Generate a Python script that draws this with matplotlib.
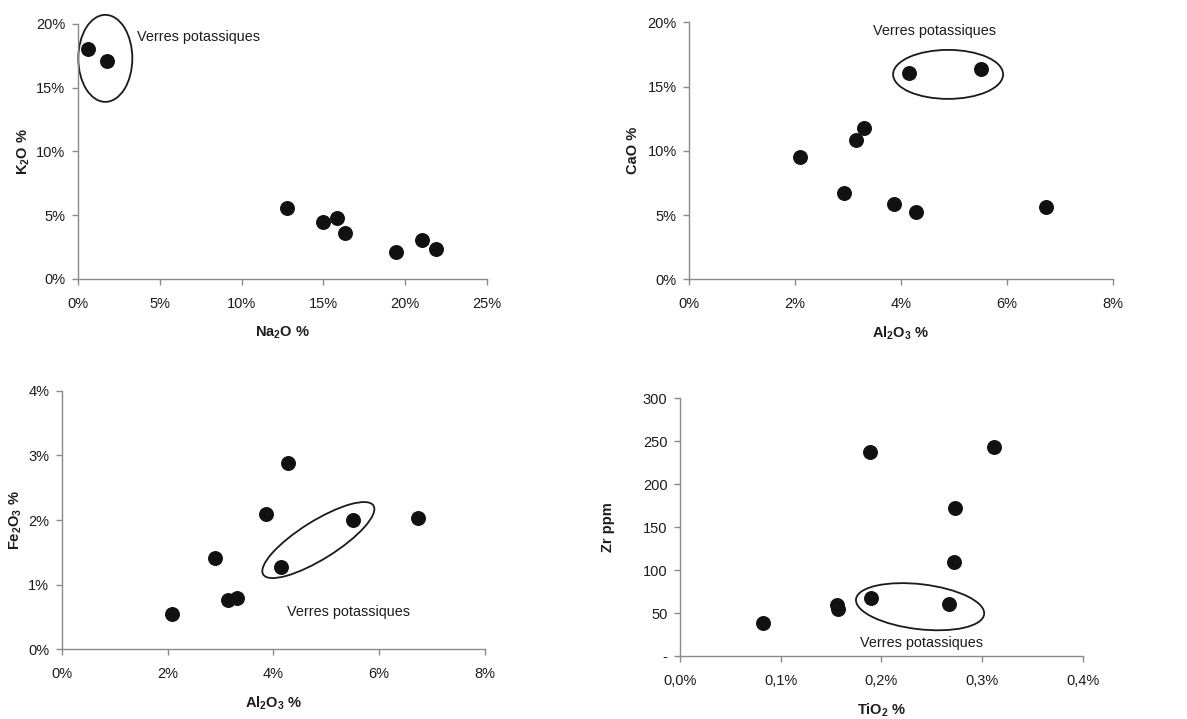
import matplotlib.pyplot as plt
from matplotlib.patches import Ellipse
from matplotlib import transforms

plt.rcParams['font.family'] = ['Liberation Sans', 'DejaVu Sans']
plt.rcParams['mathtext.fontset'] = 'custom'
plt.rcParams['mathtext.rm'] = 'Liberation Sans'
plt.rcParams['mathtext.bf'] = 'Liberation Sans:bold'

# K2O vs Na2O (%)
na2o = [0.6, 1.8, 12.8, 15.0, 15.85, 16.3, 19.45, 21.05, 21.9]
k2o = [18.0, 17.1, 5.55, 4.5, 4.75, 3.6, 2.1, 3.05, 2.35]

# CaO vs Al2O3 (%)
al2o3_a = [4.16, 5.51, 3.30, 3.15, 2.09, 2.92, 3.87, 4.28, 6.74]
cao = [16.08, 16.39, 11.75, 10.82, 9.49, 6.74, 5.86, 5.26, 5.60]

# Fe2O3 vs Al2O3 (%)
al2o3_b = [2.09, 2.90, 3.15, 3.31, 3.86, 4.28, 4.14, 5.50, 6.74]
fe2o3 = [0.55, 1.42, 0.76, 0.80, 2.09, 2.88, 1.28, 2.00, 2.03]

# Zr (ppm) vs TiO2 (%)
tio2 = [0.082, 0.156, 0.157, 0.190, 0.189, 0.312, 0.2735, 0.272, 0.2675]
zr = [38, 59, 55, 67, 238, 243, 172, 109, 60]

label_txt = 'Verres potassiques'
grey = '#8a8a8a'
txt = '#1c1c1c'

fig = plt.figure(figsize=(11.87, 7.19), dpi=100)

def setup(ax, xlim, ylim, xticks, yticks, xlab, ylab, xfmt, yfmt, ylab_x):
    ax.set_xlim(xlim)
    ax.set_ylim(ylim)
    ax.set_xticks(xticks)
    ax.set_yticks(yticks)
    ax.set_xticklabels([xfmt(v) for v in xticks])
    ax.set_yticklabels([yfmt(v) for v in yticks])
    for s in ['top', 'right']:
        ax.spines[s].set_visible(False)
    for s in ['left', 'bottom']:
        ax.spines[s].set_color(grey)
        ax.spines[s].set_linewidth(1.0)
    ax.tick_params(direction='out', length=4, width=1, color=grey,
                   labelsize=10.5, labelcolor=txt)
    ax.tick_params(axis='x', pad=9)
    ax.tick_params(axis='y', pad=5)
    ax.set_xlabel(xlab, fontsize=10.5, fontweight='bold', color=txt)
    ax.set_ylabel(ylab, fontsize=10.5, fontweight='bold', color=txt)
    ax.xaxis.set_label_coords(0.5, -0.21)
    ax.xaxis.label.set_va('center')
    ax.yaxis.set_label_coords(ylab_x, 0.5)
    ax.yaxis.label.set_va('center')

def ring(ax, cx, cy, w, h, ang):
    tr = transforms.ScaledTranslation(cx, cy, ax.transData)
    e = Ellipse((0, 0), w, h, angle=ang, fill=False, edgecolor='#1a1a1a',
                linewidth=1.3, transform=tr, clip_on=False)
    ax.add_patch(e)

pct = lambda v: f'{v:g}%'

# panel 1
ax1 = fig.add_axes([0.0657, 0.612, 0.3446, 0.3547])
ax1.scatter(na2o, k2o, s=95, color='#111111', zorder=3, clip_on=False)
setup(ax1, (0, 25), (0, 20), [0, 5, 10, 15, 20, 25], [0, 5, 10, 15, 20],
      r'Na$_{\mathbf{2}}$O %', r'K$_{\mathbf{2}}$O %', pct, pct, -0.134)
ring(ax1, 1.67, 17.3, 54, 87, 0)
ax1.text(3.63, 18.95, label_txt, fontsize=10.4, color=txt, va='center', ha='left')

# panel 2
ax2 = fig.add_axes([0.5807, 0.6115, 0.3567, 0.3574])
ax2.scatter(al2o3_a, cao, s=95, color='#111111', zorder=3)
setup(ax2, (0, 8), (0, 20), [0, 2, 4, 6, 8], [0, 5, 10, 15, 20],
      r'Al$_{\mathbf{2}}$O$_{\mathbf{3}}$ %', 'CaO %', pct, pct, -0.133)
ring(ax2, 4.89, 15.95, 110, 49, 0)
ax2.text(4.63, 19.35, label_txt, fontsize=10.4, color=txt, va='center', ha='center')

# panel 3
ax3 = fig.add_axes([0.052, 0.0969, 0.3566, 0.3597])
ax3.scatter(al2o3_b, fe2o3, s=95, color='#111111', zorder=3)
setup(ax3, (0, 8), (0, 4), [0, 2, 4, 6, 8], [0, 1, 2, 3, 4],
      r'Al$_{\mathbf{2}}$O$_{\mathbf{3}}$ %', r'Fe$_{\mathbf{2}}$O$_{\mathbf{3}}$ %',
      pct, pct, -0.110)
ring(ax3, 4.85, 1.69, 130, 38, 32)
ax3.text(4.26, 0.57, label_txt, fontsize=10.4, color=txt, va='center', ha='left')

# panel 4
ax4 = fig.add_axes([0.5729, 0.0876, 0.3393, 0.3584])
ax4.scatter(tio2, zr, s=95, color='#111111', zorder=3)
setup(ax4, (0, 0.4), (0, 300), [0, 0.1, 0.2, 0.3, 0.4], [0, 50, 100, 150, 200, 250, 300],
      r'TiO$_{\mathbf{2}}$ %', 'Zr ppm',
      lambda v: f'{v:.1f}%'.replace('.', ','),
      lambda v: '-' if v == 0 else f'{v:g}', -0.179)
ring(ax4, 0.2384, 57.4, 129, 45, -6.7)
ax4.text(0.1784, 14.8, label_txt, fontsize=10.4, color=txt, va='center', ha='left')

fig.savefig('out.png', dpi=100)
